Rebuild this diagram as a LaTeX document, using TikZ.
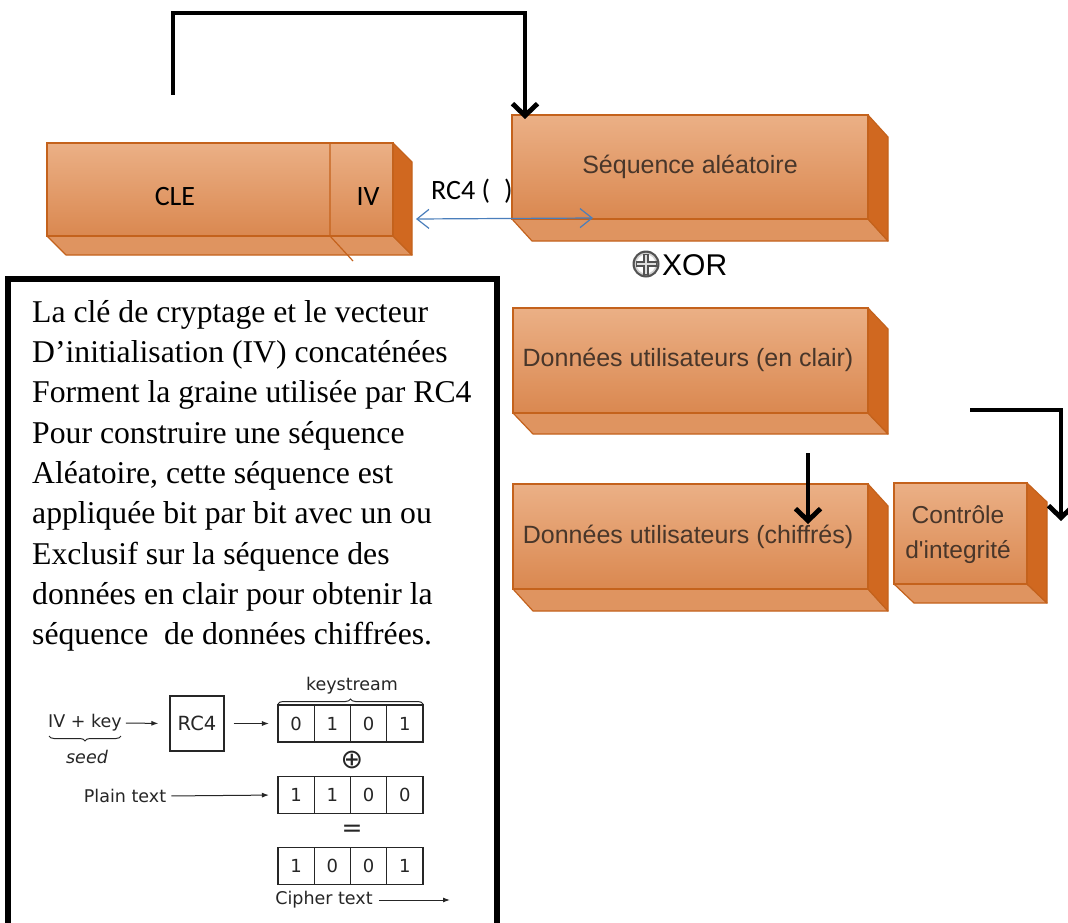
\documentclass[tikz,border=0pt]{standalone}
\usepackage{fontspec}
\setmainfont{Liberation Serif}
\newfontfamily\calib{Carlito}
\newfontfamily\arialf{Liberation Sans}
\newfontfamily\dejav{DejaVu Sans}
\usetikzlibrary{arrows.meta,decorations.pathreplacing,calc}
\definecolor{frontTop}{RGB}{235,176,134}
\definecolor{frontBot}{RGB}{218,136,80}
\definecolor{sideC}{RGB}{208,104,32}
\definecolor{botC}{RGB}{223,148,96}
\definecolor{edgeC}{RGB}{196,98,28}
\definecolor{txtC}{RGB}{72,54,42}
\definecolor{blueA}{RGB}{74,126,187}
\newcommand\cuboid[6]{%
  \filldraw[fill=botC,draw=edgeC,line width=1.2pt,line join=round] (#1,#4) -- (#1+#5,#4+#6) -- (#3+#5,#4+#6) -- (#3,#4) -- cycle;
  \filldraw[fill=sideC,draw=edgeC,line width=1.2pt,line join=round] (#3,#2) -- (#3+#5,#2+#6) -- (#3+#5,#4+#6) -- (#3,#4) -- cycle;
  \shade[top color=frontTop,bottom color=frontBot] (#1,#2) rectangle (#3,#4);
  \draw[edgeC,line width=1.2pt] (#1,#2) rectangle (#3,#4);
}
\tikzset{
  boxtxt/.style={font=\arialf\fontsize{25}{30}\selectfont, text=txtC, inner sep=0, align=center},
  caltxt/.style={font=\calib\fontsize{28}{30}\selectfont, text=black, inner sep=0},
  bigarrow/.style={line width=4.8pt, line join=miter, -{Straight Barb[length=12pt,width=25pt]}},
  bluearrow/.style={blueA, line width=1.2pt, {Straight Barb[length=12pt,width=19pt]}-{Straight Barb[length=12pt,width=19pt]}},
  smalltxt/.style={font=\dejav\fontsize{17.5}{20}\selectfont, text=black!85, inner sep=0},
  cellbox/.style={draw=black!85, line width=1.2pt, minimum width=36.25pt, minimum height=37pt, inner sep=0, outer sep=0, font=\dejav\fontsize{18}{20}\selectfont, text=black!85},
  sarrow/.style={black!85, line width=1pt, -{Latex[length=7pt,width=5pt]}},
}
\begin{document}
\begin{tikzpicture}[x=1pt,y=-1pt]
\useasboundingbox (0,0) rectangle (1068,923);
\clip (0,0) rectangle (1068,923);
\fill[white] (0,0) rectangle (1068,923);

% 3D boxes
\cuboid{47}{143}{393}{236}{19}{19}
\draw[edgeC,line width=1.2pt] (330,143) -- (330,236) -- (353,261);
\cuboid{512}{115}{868}{219}{20}{22}
\cuboid{513}{308}{868}{413}{20}{21}
\cuboid{513}{484}{868}{589}{20}{22}
\cuboid{894}{483}{1027}{584}{20}{19}

% texts in boxes
\node[caltxt] (cle) at (175,197) {CLE};
\node[caltxt] (iv) at (368,197) {IV};
\node[caltxt, anchor=west] (rcl) at (431,191) {RC4 (\hspace{0.5em})};
\node[boxtxt] (seq) at (690,167) {Séquence aléatoire};
\node[boxtxt] (clair) at (688,360) {Données utilisateurs (en clair)};
\node[boxtxt] (chif) at (688,537) {Données utilisateurs (chiffrés)};
\node[boxtxt, font=\arialf\fontsize{24.5}{35}\selectfont] (ctrl) at (958,535) {Contrôle\\d'integrité};

% XOR symbol
\coordinate (xc) at (646,264);
\fill[gray!65!black] (xc) circle (13.5);
\fill[gray!35] (xc) circle (11.3);
\fill[white] (xc) circle (9.5);
\fill[gray!65!black] ($(xc)+(-10.5,-3.2)$) rectangle ($(xc)+(10.5,3.2)$);
\fill[gray!65!black] ($(xc)+(-3.2,-10.5)$) rectangle ($(xc)+(3.2,10.5)$);
\fill[gray!25] ($(xc)+(-9.5,-1.3)$) rectangle ($(xc)+(9.5,1.3)$);
\fill[gray!25] ($(xc)+(-1.3,-9.5)$) rectangle ($(xc)+(1.3,9.5)$);
\node[circle, minimum size=27pt, inner sep=0] (xorsym) at (xc) {};
\node[font=\arialf\fontsize{30}{32}\selectfont, inner sep=0, anchor=west] (xor) at (662,265) {XOR};

% blue double arrow
\coordinate (bl) at (416,219);
\coordinate (br) at (593,218);
\draw[bluearrow] (bl) -- (br);

% big black arrows
\coordinate (t0) at (173,95);
\coordinate (seqin) at (525,119);
\draw[bigarrow] (t0) -- (173,13) -| (seqin);
\coordinate (m0) at (808,453);
\coordinate (m1) at (808,524);
\draw[bigarrow] (m0) -- (m1);
\coordinate (r0) at (970,410);
\coordinate (r1) at (1061,521);
\draw[bigarrow] (r0) -| (r1);

% left text box
\draw[line width=6pt, line join=miter] (8,935) -- (8,279) -- (497,279) -- (497,935);
\node[anchor=north west, inner sep=0, align=left, font=\fontsize{31.7}{40.3}\selectfont] (expl) at (32,300) {%
La clé de cryptage et le vecteur\\
D’initialisation (IV) concaténées\\
Forment la graine utilisée par RC4\\
Pour construire une séquence\\
Aléatoire, cette séquence est\\
appliquée bit par bit avec un ou\\
Exclusif sur la séquence des\\
données en clair pour obtenir la\\
séquence\ \ de données chiffrées.};

% small RC4 diagram
\node[smalltxt] (ivkey) at (85,723) {IV + key};
\draw[black!85, line width=1pt, decorate, decoration={brace, mirror, amplitude=5pt}] (49,736) -- (121,736);
\node[smalltxt, font=\dejav\itshape\fontsize{17.5}{20}\selectfont] (seed) at (87,757) {seed};
\node[draw=black!85, line width=1.2pt, minimum width=54pt, minimum height=55pt, inner sep=0, font=\dejav\fontsize{19.5}{22}\selectfont, text=black!85] (rc4) at (197,723.5) {RC4};
\node[cellbox] (k1) at (296.1,723.5) {0};
\node[cellbox] (k2) at (332.4,723.5) {1};
\node[cellbox] (k3) at (368.6,723.5) {0};
\node[cellbox] (k4) at (404.9,723.5) {1};
\draw[black!85, line width=1pt, decorate, decoration={brace, amplitude=5pt}] (278,704) -- (423,704);
\node[smalltxt] (ks) at (352,686) {keystream};
\node[smalltxt, font=\dejav\fontsize{27}{28}\selectfont] (plus) at (352,760) {⊕};
\node[cellbox] (p1) at (296.1,795) {1};
\node[cellbox] (p2) at (332.4,795) {1};
\node[cellbox] (p3) at (368.6,795) {0};
\node[cellbox] (p4) at (404.9,795) {0};
\node[smalltxt] (pt) at (125,796) {Plain text};
\node[smalltxt, font=\dejav\fontsize{25}{26}\selectfont] (eq) at (352,831) {=};
\node[cellbox] (c1) at (296.1,866) {1};
\node[cellbox] (c2) at (332.4,866) {0};
\node[cellbox] (c3) at (368.6,866) {0};
\node[cellbox] (c4) at (404.9,866) {1};
\node[smalltxt] (ct) at (324,900) {Cipher text};
\coordinate (cout) at (450,900);
\draw[sarrow, shorten <=4pt, shorten >=11pt] (ivkey.east) -- (rc4.west);
\draw[sarrow, shorten <=9pt, shorten >=9pt] (rc4.east) -- (k1.west);
\draw[sarrow, shorten <=5pt, shorten >=9pt] (pt.east) -- (p1.west);
\draw[sarrow, shorten <=6pt] (ct.east) -- (cout);
\end{tikzpicture}
\end{document}
